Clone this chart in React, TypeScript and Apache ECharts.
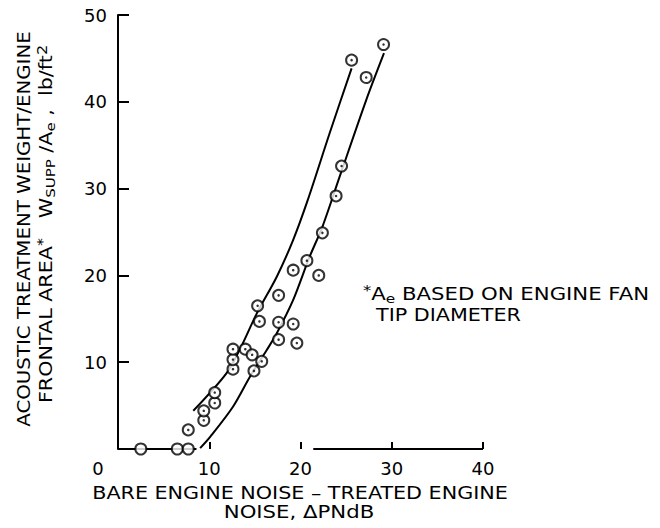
import React, { useEffect, useRef } from "react";
import * as echarts from "echarts";

// Axis ranges / ticks
const xRange = [0, 40];
const yRange = [0, 50];
const tickStep = 10;

// Data points (circle with centre dot)
const dotX = [7.7, 9.4, 9.4, 10.6, 10.6, 12.6, 12.6, 12.6, 13.95, 14.7, 14.9, 15.75, 15.3, 15.5, 17.6, 17.6, 17.6, 19.2, 19.2, 19.6, 20.7, 22.0, 22.4, 23.9, 24.5, 25.6, 27.2, 29.1];
const dotY = [2.2, 3.3, 4.4, 5.3, 6.5, 9.2, 10.3, 11.5, 11.5, 10.85, 9.0, 10.1, 16.5, 14.7, 17.7, 14.6, 12.6, 20.6, 14.4, 12.2, 21.7, 20.0, 24.9, 29.15, 32.6, 44.8, 42.8, 46.6];

// Points lying on zero (plain circles)
const zeroX = [2.5, 6.5, 7.7];
const zeroY = [0, 0, 0];

// Hand-drawn fitted curves
const upperCurveX = [8.25, 11.9, 13.5, 15.2, 17.4, 19.2, 20.8, 23.2, 25.6];
const upperCurveY = [4.4, 8.75, 11.8, 15.6, 19.85, 24.1, 28.7, 36.4, 43.85];
const lowerCurveX = [9.0, 10.1, 12.6, 14.46, 16.3, 17.4, 19.2, 21.0, 22.4, 24.3, 27.2, 29.15];
const lowerCurveY = [0.1, 1.4, 4.87, 8.33, 11.4, 13.33, 17.17, 22.15, 25.6, 31.4, 40.2, 45.6];

// Visible spans of the (broken) x axis line
const baselineSpans = [
  [0, 8.6],
  [21.4, 40],
];

const FONT = "DejaVu Sans";
const FS = 18;
const zip = (xs: number[], ys: number[]) => xs.map((x, i) => [x, ys[i]]);

export default function App() {
  const ref = useRef<HTMLDivElement>(null);
  useEffect(() => {
    if (!ref.current) return;
    const chart = echarts.init(ref.current, null, { renderer: "svg" });
    const txt = { fontFamily: FONT, fontSize: FS, color: "#000" };
    const rich = {
      n: { fontFamily: FONT, fontSize: FS, color: "#000", lineHeight: 21 },
      sub: { fontFamily: FONT, fontSize: 13, color: "#000", lineHeight: 10, verticalAlign: "bottom" },
      sup: { fontFamily: FONT, fontSize: 14, color: "#000", lineHeight: 10, verticalAlign: "top" },
    };
    const plainText = (text: string, x: number, y: number, align: string, widen: number, rotated = false) => ({
      type: "text",
      x,
      y,
      rotation: rotated ? Math.PI / 2 : 0,
      scaleX: widen,
      style: {
        text,
        font: `${FS}px '${FONT}'`,
        fill: "#000",
        align,
        verticalAlign: "middle",
      },
    });
    const richText = (text: string, x: number, y: number, align: string, widen: number, rotated = false) => ({
      type: "text",
      x,
      y,
      rotation: rotated ? Math.PI / 2 : 0,
      scaleX: widen,
      style: { text, rich, align, verticalAlign: "middle" },
    });
    const option: any = {
      animation: false,
      backgroundColor: "#fff",
      grid: { left: 118, right: 177, top: 15, bottom: 79 },
      xAxis: {
        type: "value",
        min: xRange[0],
        max: xRange[1],
        interval: tickStep,
        splitLine: { show: false },
        axisLine: { show: false },
        axisTick: { show: true, inside: true, length: 7, lineStyle: { color: "#000", width: 2 } },
        axisLabel: {
          ...txt,
          margin: 10,
          formatter: (v: number) => (v === 0 ? "{z|0}" : String(v)),
          rich: { z: { ...txt, padding: [0, 40, 0, 0] } },
        },
      },
      yAxis: {
        type: "value",
        min: yRange[0],
        max: yRange[1],
        interval: tickStep,
        splitLine: { show: false },
        axisLine: { show: true, lineStyle: { color: "#000", width: 2 } },
        axisTick: { show: true, inside: true, length: 11, lineStyle: { color: "#000", width: 2 } },
        axisLabel: {
          ...txt,
          margin: 11,
          formatter: (v: number) => (v === 0 ? "" : String(v)),
        },
      },
      series: [
        ...baselineSpans.map((s) => ({
          type: "line",
          data: [
            [s[0], 0],
            [s[1], 0],
          ],
          symbol: "none",
          lineStyle: { color: "#000", width: 2 },
          z: 1,
        })),
        {
          type: "line",
          data: zip(upperCurveX, upperCurveY),
          smooth: 0.3,
          symbol: "none",
          lineStyle: { color: "#000", width: 2 },
          z: 2,
        },
        {
          type: "line",
          data: zip(lowerCurveX, lowerCurveY),
          smooth: 0.3,
          symbol: "none",
          lineStyle: { color: "#000", width: 2 },
          z: 2,
        },
        {
          type: "scatter",
          data: zip(zeroX, zeroY),
          symbol: "circle",
          symbolSize: 11,
          itemStyle: { color: "#fff", borderColor: "#000", borderWidth: 2 },
          z: 3,
        },
        {
          type: "scatter",
          data: zip(dotX, dotY),
          symbol: "circle",
          symbolSize: 11,
          itemStyle: { color: "#fff", borderColor: "#000", borderWidth: 2 },
          z: 3,
        },
        {
          type: "scatter",
          data: zip(dotX, dotY),
          symbol: "circle",
          symbolSize: 2.5,
          itemStyle: { color: "#000" },
          z: 4,
        },
      ],
      graphic: [
        plainText("ACOUSTIC TREATMENT WEIGHT/ENGINE", 23, 229, "center", 1.1, true),
        richText(
          "{n|FRONTAL AREA}{sup|*}{n|   W}{sub|SUPP}{n| /A}{sub|e}{n| ,  lb/ft}{sup|2}",
          46,
          224,
          "center",
          1.15,
          true
        ),
        plainText("BARE ENGINE NOISE – TREATED ENGINE", 300, 493, "center", 1.15),
        plainText("NOISE, ΔPNdB", 299, 512, "center", 1.18),
        richText("{sup|*}{n|A}{sub|e}{n| BASED ON ENGINE FAN}", 363, 294, "left", 1.18),
        plainText("TIP DIAMETER", 376, 315, "left", 1.15),
      ],
    };
    chart.setOption(option);
    return () => chart.dispose();
  }, []);
  return (
    <div
      ref={ref}
      style={{ position: "fixed", left: 0, top: 0, width: 660, height: 528, background: "#fff" }}
    />
  );
}
